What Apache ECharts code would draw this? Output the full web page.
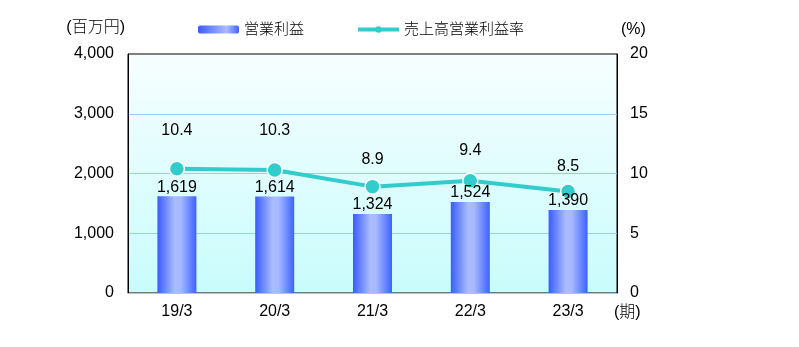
<!DOCTYPE html>
<html>
<head>
<meta charset="utf-8">
<script src="https://cdn.jsdelivr.net/npm/echarts@6/dist/echarts.min.js"></script>
<style>
  html, body { margin: 0; padding: 0; background: #fff; }
  #chart { width: 799px; height: 347px; }
</style>
</head>
<body>
<div id="chart"></div>
<script>
// 決算期
const periods = ['19/3', '20/3', '21/3', '22/3', '23/3'];
// 営業利益（百万円）
const operatingProfit = [1619, 1614, 1324, 1524, 1390];
// 売上高営業利益率（%）
const operatingMargin = [10.4, 10.3, 8.9, 9.4, 8.5];
// 左軸・右軸の目盛
const leftTicks = { min: 0, max: 4000, interval: 1000 };
const rightTicks = { min: 0, max: 20, interval: 5 };

// 利益率ラベルの持ち上げ量（px）
const marginLabelLift = [22, 23, 11, 14, 9];

const FONT = '"Liberation Sans", "Noto Sans CJK JP", sans-serif';
const TEXT = { color: '#000', fontFamily: FONT, fontSize: 16, fontWeight: 300 };

const barGradient = new echarts.graphic.LinearGradient(0, 0, 1, 0, [
  { offset: 0, color: '#3a5cff' },
  { offset: 0.45, color: '#abbdff' },
  { offset: 0.6, color: '#a6b8ff' },
  { offset: 1, color: '#3d62ff' }
]);

const chart = echarts.init(document.getElementById('chart'));
chart.setOption({
  animation: false,
  textStyle: { fontFamily: FONT },
  legend: {
    top: 17,
    left: 193,
    itemGap: 52,
    itemWidth: 41,
    itemHeight: 8,
    textStyle: Object.assign({}, TEXT, { fontSize: 15 }),
    data: [
      { name: '営業利益', itemStyle: { color: new echarts.graphic.LinearGradient(0, 0, 1, 0, [
        { offset: 0, color: '#3a5cff' }, { offset: 0.7, color: '#abbdff' }, { offset: 1, color: '#3d62ff' }]) } },
      { name: '売上高営業利益率', lineStyle: { width: 4, color: '#33cccc' }, itemStyle: { color: '#33cccc', borderWidth: 0 } }
    ]
  },
  grid: {
    left: 128, right: 182, top: 54, bottom: 54,
    show: true,
    borderColor: '#000',
    borderWidth: 1,
    backgroundColor: new echarts.graphic.LinearGradient(0, 0, 0, 1, [
      { offset: 0, color: '#f7feff' },
      { offset: 1, color: '#c9fcfc' }
    ])
  },
  xAxis: {
    type: 'category',
    data: periods,
    name: '(期)',
    nameLocation: 'end',
    nameGap: 0,
    nameTextStyle: Object.assign({}, TEXT, { align: 'left', verticalAlign: 'top', padding: [12, 0, 0, -3] }),
    axisLine: { lineStyle: { color: '#99ccff', width: 1 } },
    axisTick: { show: false },
    axisLabel: Object.assign({}, TEXT, { margin: 11 })
  },
  yAxis: [
    {
      type: 'value',
      min: leftTicks.min, max: leftTicks.max, interval: leftTicks.interval,
      name: '(百万円)',
      nameGap: 18,
      nameTextStyle: Object.assign({}, TEXT, { align: 'right', padding: [0, 3, 0, 0] }),
      axisLine: { show: true, lineStyle: { color: '#000', width: 1 } },
      axisTick: { show: false },
      axisLabel: Object.assign({}, TEXT, {
        margin: 14,
        formatter: v => v.toLocaleString('en-US')
      }),
      splitLine: { showMaxLine: false, lineStyle: { color: '#99ccff', width: 1 } }
    },
    {
      type: 'value',
      min: rightTicks.min, max: rightTicks.max, interval: rightTicks.interval,
      name: '(%)',
      nameGap: 16,
      nameTextStyle: Object.assign({}, TEXT, { align: 'left', padding: [0, 0, 0, 4] }),
      axisLine: { show: true, lineStyle: { color: '#000', width: 1 } },
      axisTick: { show: false },
      axisLabel: Object.assign({}, TEXT, { margin: 13 }),
      splitLine: { show: false }
    }
  ],
  series: [
    {
      name: '営業利益',
      type: 'bar',
      yAxisIndex: 0,
      barWidth: 39,
      z: 3,
      data: operatingProfit,
      itemStyle: { color: barGradient },
      label: Object.assign({}, TEXT, {
        show: true,
        position: 'top',
        distance: 1,
        formatter: p => p.value.toLocaleString('en-US')
      })
    },
    {
      name: '売上高営業利益率',
      type: 'line',
      yAxisIndex: 1,
      z: 2,
      data: operatingMargin.map((v, i) => ({
        value: v,
        label: { distance: marginLabelLift[i] }
      })),
      symbol: 'circle',
      symbolSize: 15,
      lineStyle: { color: '#33cccc', width: 4 },
      itemStyle: { color: '#33cccc', borderColor: '#fff', borderWidth: 1.5 },
      label: Object.assign({}, TEXT, {
        show: true,
        position: 'top',
        formatter: p => p.value.toFixed(1)
      })
    }
  ]
});
</script>
</body>
</html>
